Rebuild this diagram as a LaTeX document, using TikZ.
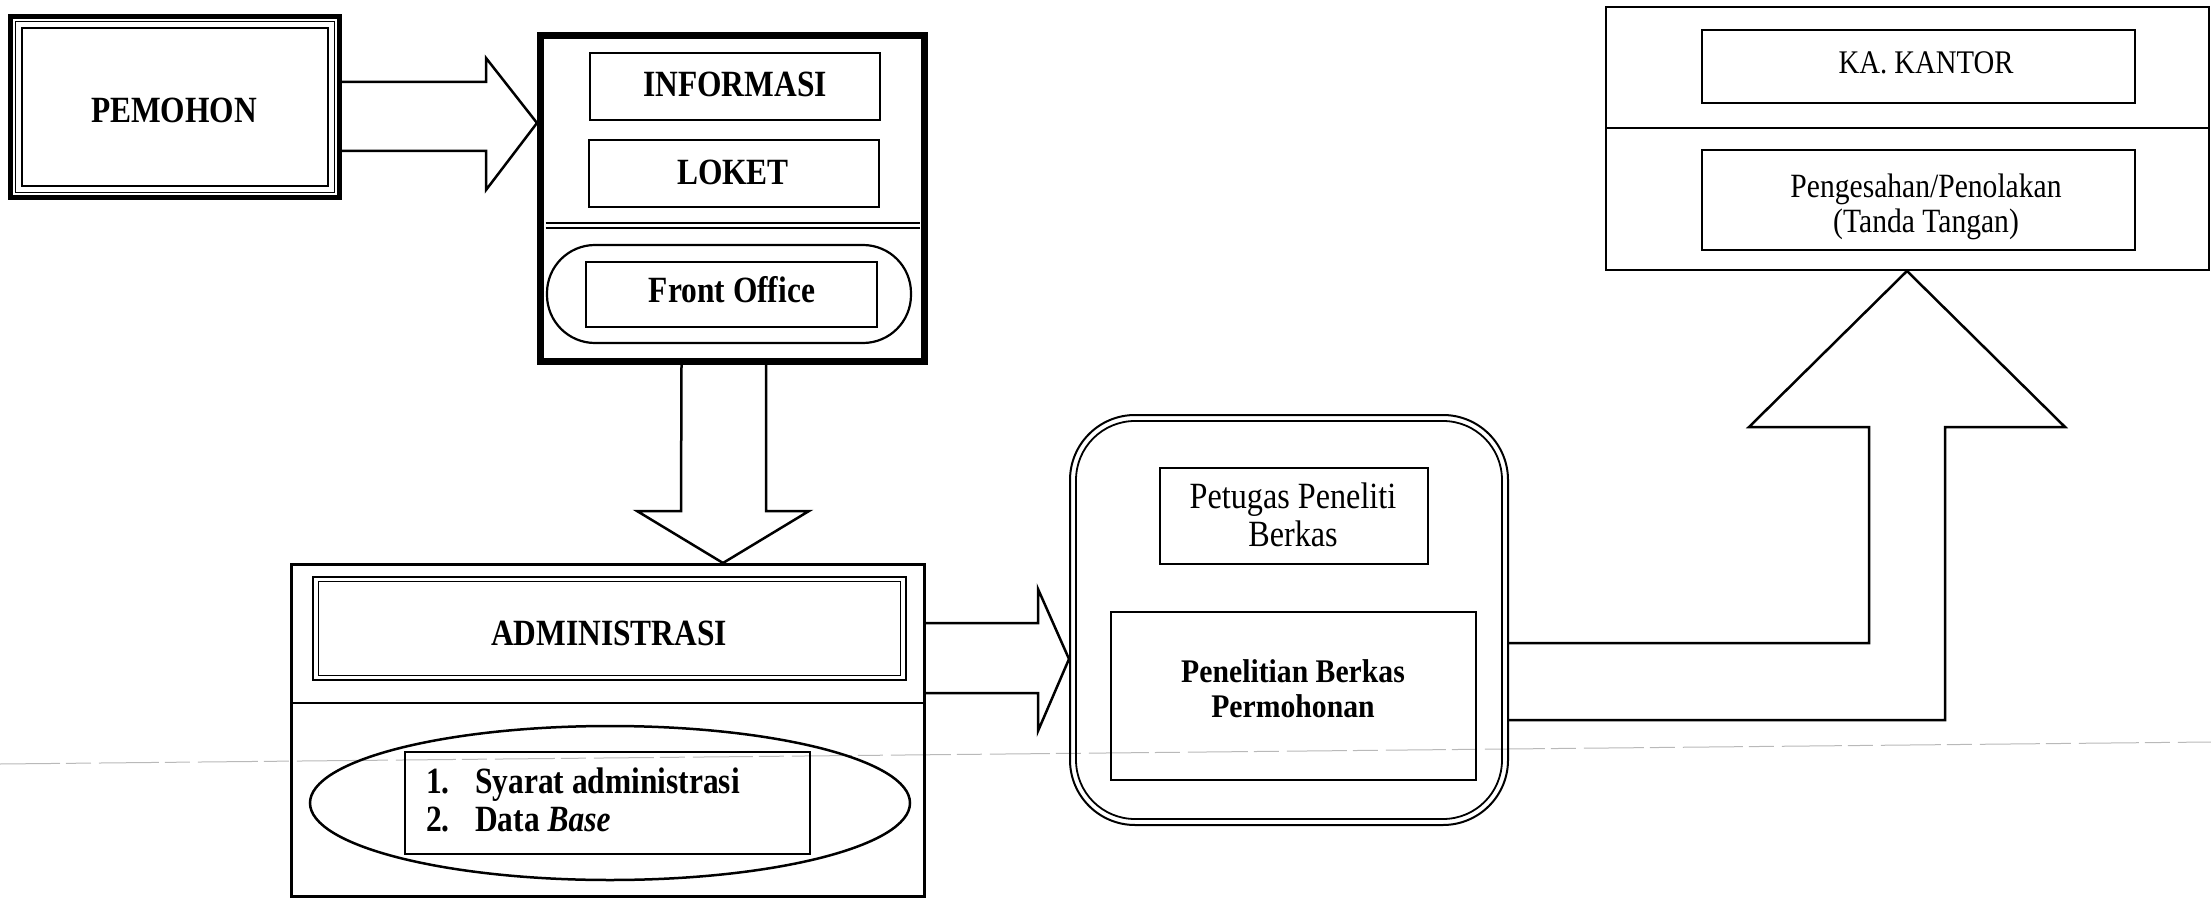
\documentclass[tikz,border=0pt]{standalone}
\usepackage{fontspec}
\setmainfont[FakeStretch=0.85]{Liberation Serif}
\newfontfamily\widerfont[FakeStretch=0.9]{Liberation Serif}
\newfontfamily\regfont[FakeStretch=0.87]{Liberation Serif}
\usetikzlibrary{shapes.geometric}
\begin{document}
\begin{tikzpicture}[x=1pt,y=-1pt,
  frame/.style={draw, rectangle, inner sep=0pt, line width=2.2pt},
  thinframe/.style={line width=1.4pt},
  blk/.style={draw, line width=2.5pt, line join=miter},
  bigbf/.style={inner sep=0pt, anchor=base, font=\fontsize{37}{38}\selectfont\bfseries},
  midrm/.style={inner sep=0pt, anchor=base, font=\regfont\fontsize{37}{38}\selectfont},
  penbf/.style={inner sep=0pt, anchor=base, font=\widerfont\fontsize{33}{35}\selectfont\bfseries},
  karm/.style={inner sep=0pt, anchor=base, font=\regfont\fontsize{33}{35}\selectfont},
  pgrm/.style={inner sep=0pt, anchor=base, font=\regfont\fontsize{34}{35}\selectfont},
  scanline/.style={gray!55, line width=1pt, dash pattern=on 60pt off 6pt on 25pt off 8pt}
]
\useasboundingbox (0,0) rectangle (2211,901);

% faint scanner line across the page
\coordinate (scanL) at (0,764);
\coordinate (scanR) at (2211,742);
\draw[scanline] (scanL) -- (scanR);

% ---------- PEMOHON ----------
\node[frame, line width=5pt, minimum width=329pt, minimum height=181pt] (pem) at (175,107) {};
\draw[thinframe] ([shift={(7.5,7.5)}]pem.north west) rectangle ([shift={(-7.5,-7.5)}]pem.south east);
\draw[thinframe] ([shift={(14,14)}]pem.north west) rectangle ([shift={(-14,-14)}]pem.south east);
\node[bigbf] (pemt) at (174,123) {PEMOHON};

% ---------- Front office block ----------
\node[frame, line width=5pt, minimum width=386pt, minimum height=328pt] (main) at (732.5,198.5) {};
\draw[thinframe] ([shift={(6,6)}]main.north west) rectangle ([shift={(-6,-6)}]main.south east);
\draw[line width=2.5pt] (545.5,223) -- (919.5,223);
\draw[line width=1.4pt] (545.5,228) -- (919.5,228);
\node[frame, minimum width=290pt, minimum height=67pt] (inf) at (735,86.5) {};
\node[bigbf] (inft) at (735,97) {INFORMASI};
\node[frame, minimum width=290pt, minimum height=67pt] (lok) at (734,173.5) {};
\node[bigbf] (lokt) at (733,185) {LOKET};
\node[draw, line width=2.2pt, rectangle, rounded corners=48pt, inner sep=0pt, minimum width=364pt, minimum height=98pt] (fo) at (729,294) {};
\node[frame, minimum width=291pt, minimum height=65pt] (fob) at (731.5,294.5) {};
\node[bigbf] (fot) at (732,303) {Front Office};

% ---------- ADMINISTRASI block ----------
\node[frame, line width=3pt, minimum width=633pt, minimum height=332pt] (adm) at (608,730.5) {};
\draw[line width=2.5pt] (adm.west |- 0,703) -- (adm.east |- 0,703);
\node[frame, line width=2.5pt, minimum width=593pt, minimum height=103pt] (admb) at (609.5,628.5) {};
\draw[line width=1.2pt] ([shift={(7,6)}]admb.north west) rectangle ([shift={(-7,-6)}]admb.south east);
\node[bigbf] (admt) at (609,645) {ADMINISTRASI};
\node[draw, ellipse, line width=2.5pt, inner sep=0pt, minimum width=600pt, minimum height=154pt] (ell) at (610,803) {};
\node[frame, line width=2pt, minimum width=405pt, minimum height=102pt] (lst) at (607.5,803) {};
\node[bigbf, anchor=base west] (l1) at (426,793) {\makebox[49pt][l]{1.}Syarat administrasi};
\node[bigbf, anchor=base west] (l2) at (426,831) {\makebox[49pt][l]{2.}Data \textit{Base}};

% ---------- Petugas block ----------
\node[draw, rectangle, rounded corners=65pt, line width=2pt, inner sep=0pt, minimum width=438pt, minimum height=410pt] (pet) at (1289,620) {};
\node[draw, rectangle, rounded corners=59pt, line width=1.8pt, inner sep=0pt, minimum width=426pt, minimum height=398pt] (peti) at (1289,620) {};
\node[frame, line width=2.5pt, minimum width=268pt, minimum height=96pt] (petr) at (1294,516) {};
\node[midrm] (pt1) at (1293,508) {Petugas Peneliti};
\node[midrm] (pt2) at (1293,546) {Berkas};
\node[frame, line width=2pt, minimum width=365pt, minimum height=168pt] (penr) at (1293.5,696) {};
\node[penbf] (pn1) at (1293,682) {Penelitian Berkas};
\node[penbf] (pn2) at (1293,717) {Permohonan};

% ---------- KA. KANTOR block ----------
\node[frame, line width=2pt, minimum width=603pt, minimum height=263pt] (ka) at (1907.5,138.5) {};
\draw[line width=2.2pt] (ka.west |- 0,128) -- (ka.east |- 0,128);
\node[frame, line width=2pt, minimum width=433pt, minimum height=73pt] (kar) at (1918.5,66.5) {};
\node[karm] (kat) at (1926,74) {KA. KANTOR};
\node[frame, line width=2pt, minimum width=433pt, minimum height=100pt] (pgr) at (1918.5,200) {};
\node[pgrm] (pg1) at (1926,198) {Pengesahan/Penolakan};
\node[pgrm] (pg2) at (1926,233) {(Tanda Tangan)};

% ---------- block arrows ----------
% PEMOHON -> Front office
\draw[blk] ([yshift=25pt]pem.east) -- (486,82) -- (486,58) -- (main.west |- 0,123)
  -- (486,190) -- (486,151) -- ([yshift=-44pt]pem.east);
% Front office -> ADMINISTRASI
\draw[blk] ([xshift=-51pt]main.south) -- (681,511) -- (637,511) -- (adm.north -| 723,0)
  -- (809,511) -- (766,511) -- ([xshift=33.5pt]main.south);
% ADMINISTRASI -> Petugas
\draw[blk] (adm.east |- 0,623) -- (1038,623) -- (1038,589) -- (pet.west |- 0,659)
  -- (1038,731) -- (1038,693) -- (adm.east |- 0,693);
% Petugas -> KA. KANTOR
\draw[blk] (pet.east |- 0,643) -- (1869,643) -- (1869,427) -- (1749,427) -- (ka.south -| 1907,0)
  -- (2065,427) -- (1945,427) -- (1945,720) -- (pet.east |- 0,720);
\end{tikzpicture}
\end{document}
